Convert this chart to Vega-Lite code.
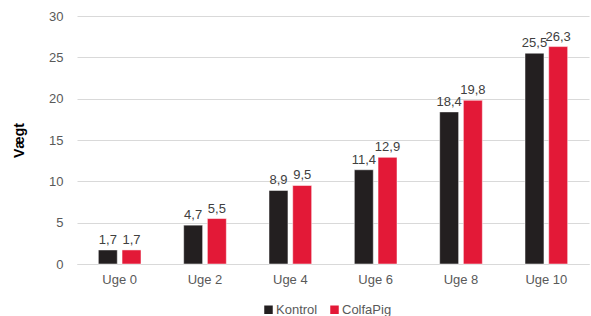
{
  "$schema": "https://vega.github.io/schema/vega-lite/v6.json",
  "width": 512,
  "height": 248,
  "autosize": {"type": "none"},
  "padding": {"left": 77, "top": 16, "right": 3, "bottom": 52},
  "background": "white",
  "config": {
    "font": "Liberation Sans",
    "view": {"stroke": null},
    "axis": {"labelFont": "Liberation Sans", "labelColor": "#595959", "labelFontSize": 13}
  },
  "data": {
    "values": [
      {"uge": "Uge 0", "gruppe": "Kontrol", "v": 1.7, "lbl": "1,7"},
      {"uge": "Uge 0", "gruppe": "ColfaPig", "v": 1.7, "lbl": "1,7"},
      {"uge": "Uge 2", "gruppe": "Kontrol", "v": 4.7, "lbl": "4,7"},
      {"uge": "Uge 2", "gruppe": "ColfaPig", "v": 5.5, "lbl": "5,5"},
      {"uge": "Uge 4", "gruppe": "Kontrol", "v": 8.9, "lbl": "8,9"},
      {"uge": "Uge 4", "gruppe": "ColfaPig", "v": 9.5, "lbl": "9,5"},
      {"uge": "Uge 6", "gruppe": "Kontrol", "v": 11.4, "lbl": "11,4"},
      {"uge": "Uge 6", "gruppe": "ColfaPig", "v": 12.9, "lbl": "12,9"},
      {"uge": "Uge 8", "gruppe": "Kontrol", "v": 18.4, "lbl": "18,4"},
      {"uge": "Uge 8", "gruppe": "ColfaPig", "v": 19.8, "lbl": "19,8"},
      {"uge": "Uge 10", "gruppe": "Kontrol", "v": 25.5, "lbl": "25,5"},
      {"uge": "Uge 10", "gruppe": "ColfaPig", "v": 26.3, "lbl": "26,3"}
    ]
  },
  "encoding": {
    "x": {
      "field": "uge", "type": "nominal", "sort": null,
      "scale": {"paddingInner": 0.5, "paddingOuter": 0.25},
      "axis": {"title": null, "labelAngle": 0, "domain": true, "domainColor": "#d9d9d9", "ticks": false, "labelPadding": 9}
    },
    "xOffset": {"field": "gruppe", "type": "nominal", "sort": ["Kontrol", "ColfaPig"], "scale": {"paddingInner": 0.2}},
    "y": {
      "field": "v", "type": "quantitative",
      "scale": {"domain": [0, 30]},
      "axis": {"title": "Vægt", "titleFontSize": 14, "titleFontWeight": "bold", "titleColor": "#000000", "titlePadding": 22,
               "values": [0, 5, 10, 15, 20, 25, 30], "grid": true, "gridColor": "#d9d9d9", "domain": false, "ticks": false, "labelPadding": 14}
    }
  },
  "layer": [
    {
      "mark": {"type": "bar", "stroke": "white", "strokeWidth": 0.5},
      "encoding": {
        "color": {
          "field": "gruppe", "type": "nominal", "sort": ["Kontrol", "ColfaPig"],
          "scale": {"domain": ["Kontrol", "ColfaPig"], "range": ["#231f20", "#e31937"]},
          "legend": {"orient": "none", "legendX": 185, "legendY": 287, "direction": "horizontal", "title": null, "symbolType": "square", "symbolSize": 100, "labelFontSize": 13, "labelColor": "#595959", "labelFont": "Liberation Sans", "columnPadding": 8, "labelOffset": 1}
        }
      }
    },
    {
      "mark": {"type": "text", "dy": -10, "fontSize": 13, "color": "#404040", "font": "Liberation Sans"},
      "encoding": {"text": {"field": "lbl"}}
    }
  ]
}
